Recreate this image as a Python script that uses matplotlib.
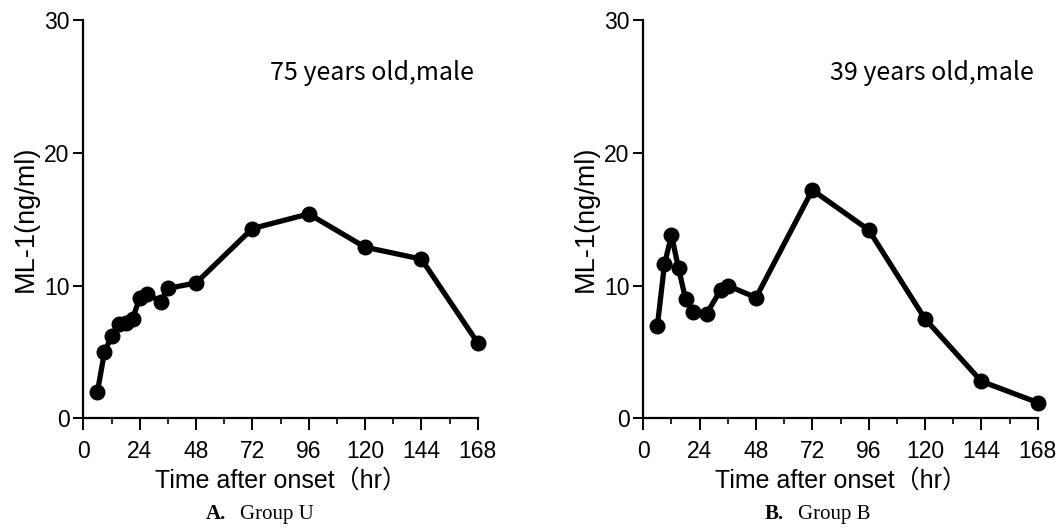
import matplotlib
matplotlib.use("Agg")
import matplotlib.pyplot as plt
from matplotlib.ticker import MultipleLocator

# group U, 75 years old male
hoursU = [6, 9, 12, 15, 18, 21, 24, 27, 33, 36, 48, 72, 96, 120, 144, 168]
mlU = [2.0, 5.0, 6.2, 7.1, 7.2, 7.5, 9.1, 9.4, 8.8, 9.8, 10.2, 14.3, 15.4, 12.9, 12.0, 5.7]

# group B, 39 years old male
hoursB = [6, 9, 12, 15, 18, 21, 27, 33, 36, 48, 72, 96, 120, 144, 168]
mlB = [7.0, 11.6, 13.8, 11.3, 9.0, 8.0, 7.9, 9.7, 10.0, 9.1, 17.2, 14.2, 7.5, 2.8, 1.2]

xticks = [0, 24, 48, 72, 96, 120, 144, 168]
yticks = [0, 10, 20, 30]

sans = ["Liberation Sans", "Noto Sans CJK SC", "DejaVu Sans"]
plt.rcParams["font.family"] = sans

fig = plt.figure(figsize=(10.63, 5.29), dpi=100)

panels = [
    (0.0784, hoursU, mlU, "75 years old,male", "A.", "Group U", 0.2126),
    (0.6052, hoursB, mlB, "39 years old,male", "B.", "Group B", 0.7375),
]

for left, hrs, vals, note, letter, group, capx in panels:
    ax = fig.add_axes([left, 0.2089, 0.371, 0.7533])
    ax.plot(hrs, vals, color="black", lw=3.8, marker="o", ms=10.5,
            solid_joinstyle="round", clip_on=False, zorder=3)

    ax.set_xlim(0, 168)
    ax.set_ylim(0, 30)
    ax.set_xticks(xticks)
    ax.set_yticks(yticks)
    ax.xaxis.set_minor_locator(MultipleLocator(12))
    ax.spines["top"].set_visible(False)
    ax.spines["right"].set_visible(False)
    for s in ("left", "bottom"):
        ax.spines[s].set_linewidth(1.6)
    ax.tick_params(which="major", length=8.5, width=1.4, labelsize=16.5)
    ax.tick_params(axis="x", which="major", pad=7)
    ax.tick_params(axis="y", which="major", length=7, pad=3)
    ax.tick_params(which="minor", length=4.5, width=1.2)

    ax.set_xlabel("Time after onset（hr）", fontsize=18, labelpad=4)
    ax.set_ylabel("ML-1(ng/ml)", fontsize=19.5)
    ax.yaxis.set_label_coords(-0.112, 0.5)

    ax.text(166.5, 26.0, note, fontsize=18, ha="right", va="center",
            family=["Noto Sans CJK SC", "DejaVu Sans"])

    fig.text(capx, 0.028, letter, fontsize=15, fontweight="bold",
             family="Liberation Serif", ha="right", va="center")
    fig.text(capx + 0.0132, 0.028, group, fontsize=15,
             family="Liberation Serif", ha="left", va="center")

fig.savefig("out.png", dpi=100)
